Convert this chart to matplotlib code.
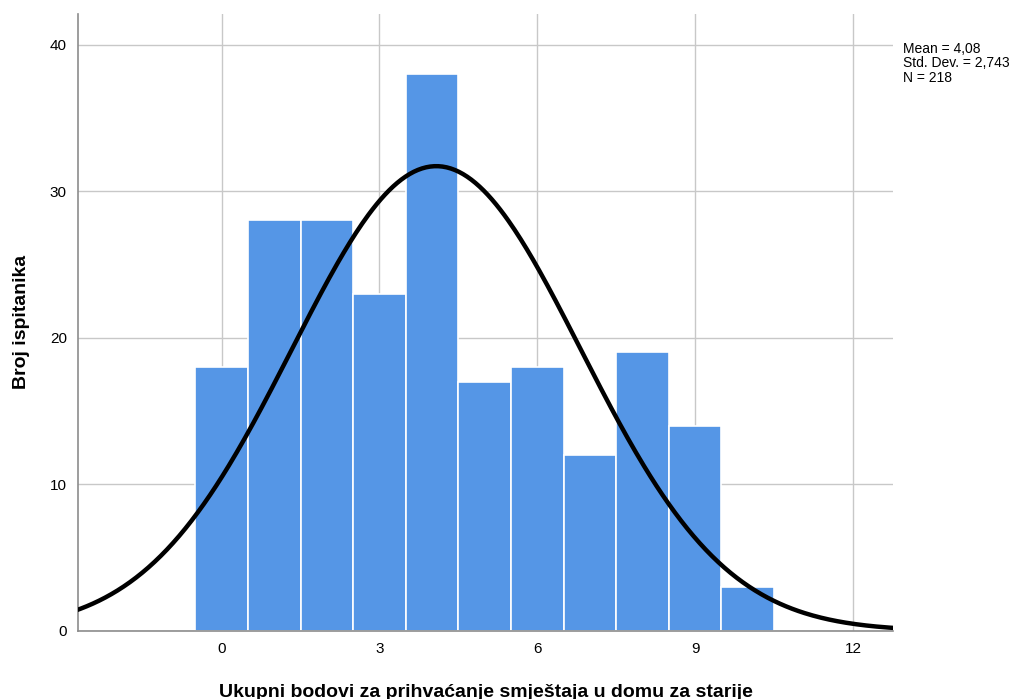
import numpy as np
import matplotlib
matplotlib.use('Agg')
import matplotlib.pyplot as plt

plt.rcParams['font.family'] = ['Liberation Sans', 'DejaVu Sans']

# histogram data (bin centres, counts)
bins = [0, 1, 2, 3, 4, 5, 6, 7, 8, 9, 10]
counts = [18, 28, 28, 23, 38, 17, 18, 12, 19, 14, 3]
mean = 4.08
std = 2.743
n = 218

fig = plt.figure(figsize=(10.24, 6.99), dpi=100)
ax = fig.add_axes([0.0762, 0.0973, 0.7958, 0.883])

ax.bar(bins, counts, width=1.0, color='#5596e6', edgecolor='white', linewidth=1.2, zorder=2)

# normal curve scaled to counts
xs = np.linspace(-2.8, 12.8, 400)
ys = n * 1.0 / (std * np.sqrt(2 * np.pi)) * np.exp(-0.5 * ((xs - mean) / std) ** 2)
ax.plot(xs, ys, color='black', linewidth=3.2, zorder=3)

ax.set_xlim(-2.73, 12.76)
ax.set_ylim(0, 42.1)
ax.set_xticks([0, 3, 6, 9, 12])
ax.set_yticks([0, 10, 20, 30, 40])
ax.grid(True, color='#c8c8c8', linewidth=1, zorder=0)
ax.set_axisbelow(True)
ax.tick_params(length=0, labelsize=11, pad=8)

for s in ['top', 'right']:
    ax.spines[s].set_visible(False)
for s in ['left', 'bottom']:
    ax.spines[s].set_color('#8c8c8c')
    ax.spines[s].set_linewidth(1.2)

ax.set_xlabel('Ukupni bodovi za prihvaćanje smještaja u domu za starije',
              fontsize=14, fontweight='bold', labelpad=20)
ax.set_ylabel('Broj ispitanika', fontsize=14, fontweight='bold', labelpad=14)

fig.text(0.882, 0.94, 'Mean = 4,08\nStd. Dev. = 2,743\nN = 218',
         fontsize=10, va='top', ha='left', linespacing=1.05)

fig.savefig('out.png', dpi=100)
